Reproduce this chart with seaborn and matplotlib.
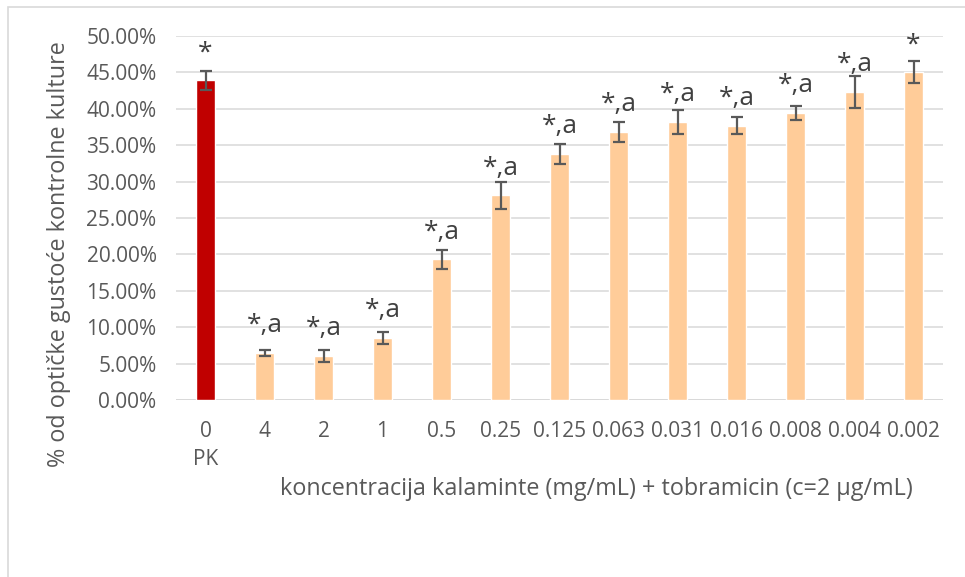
import matplotlib
matplotlib.use("Agg")
import matplotlib.pyplot as plt
from matplotlib.patches import Rectangle
from matplotlib.ticker import PercentFormatter, MultipleLocator
import seaborn as sns
import pandas as pd

# Concentrations of calamint extract (mg/mL), with positive control first
categories = ["0\nPK", "4", "2", "1", "0.5", "0.25", "0.125", "0.063",
              "0.031", "0.016", "0.008", "0.004", "0.002"]
# Mean % of control culture optical density and its error
values = [43.9, 6.5, 6.0, 8.5, 19.3, 28.1, 33.8, 36.8, 38.2, 37.7, 39.4, 42.3, 45.05]
errors = [1.3, 0.4, 0.8, 0.8, 1.3, 1.85, 1.35, 1.4, 1.7, 1.2, 1.0, 2.25, 1.5]
# Significance labels above the bars
labels = ["*", "*,a", "*,a", "*,a", "*,a", "*,a", "*,a", "*,a", "*,a", "*,a",
          "*,a", "*,a", "*"]
colors = ["#C00000"] + ["#FFCC99"] * 12

df = pd.DataFrame({"konc": categories, "pct": values})

sns.set_theme(style="white")
plt.rcParams["font.family"] = ["Open Sans", "DejaVu Sans"]

W, H, DPI = 965, 577, 100
fig = plt.figure(figsize=(W / DPI, H / DPI), dpi=DPI)
fig.patch.set_facecolor("white")

# chart frame
fig.add_artist(Rectangle((8 / W, -0.05), 1.1, (H - 7) / H + 0.05,
                         transform=fig.transFigure, fill=False,
                         edgecolor="#D9D9D9", linewidth=1.2, zorder=0))

left, right, top, bottom = 176, 943, 36, 400
ax = fig.add_axes([left / W, 1 - bottom / H, (right - left) / W, (bottom - top) / H])

sns.barplot(data=df, x="konc", y="pct", hue="konc", palette=colors,
            width=0.31, legend=False, saturation=1, ax=ax, zorder=3)

ax.errorbar(range(len(values)), values, yerr=errors, fmt="none",
            ecolor="#595959", elinewidth=1.6, capsize=4, capthick=1.6, zorder=4)

for i, (v, lab) in enumerate(zip(values, labels)):
    ax.annotate(lab, (i, v), xytext=(0, 15), textcoords="offset points",
                ha="center", va="baseline", fontsize=19, color="#404040", zorder=5)

ax.set_ylim(0, 50)
ax.set_xlim(-0.5, len(values) - 0.5)
ax.yaxis.set_major_locator(MultipleLocator(5))
ax.yaxis.set_major_formatter(PercentFormatter(xmax=100, decimals=2))
ax.grid(axis="y", color="#D9D9D9", linewidth=1.1, zorder=0)
ax.grid(axis="x", visible=False)
ax.set_axisbelow(True)
for s in ax.spines.values():
    s.set_visible(False)
ax.axhline(0, color="#D9D9D9", linewidth=1.4, zorder=2)

ax.tick_params(axis="both", length=0, labelsize=15, labelcolor="#595959")
ax.tick_params(axis="y", pad=14)
ax.tick_params(axis="x", pad=15)
for t in ax.get_xticklabels():
    t.set_linespacing(1.45)

ax.set_xlabel("")
ax.set_ylabel("")
fig.text(596 / W, 1 - 495 / H, "koncentracija kalaminte (mg/mL) + tobramicin (c=2 µg/mL)",
         ha="center", va="baseline", fontsize=16.8, color="#595959")
fig.text(59 / W, 1 - 254 / H, "% od optičke gustoće kontrolne kulture",
         ha="center", va="center", rotation=90, fontsize=16.8, color="#595959")

fig.savefig("out.png", dpi=DPI)
